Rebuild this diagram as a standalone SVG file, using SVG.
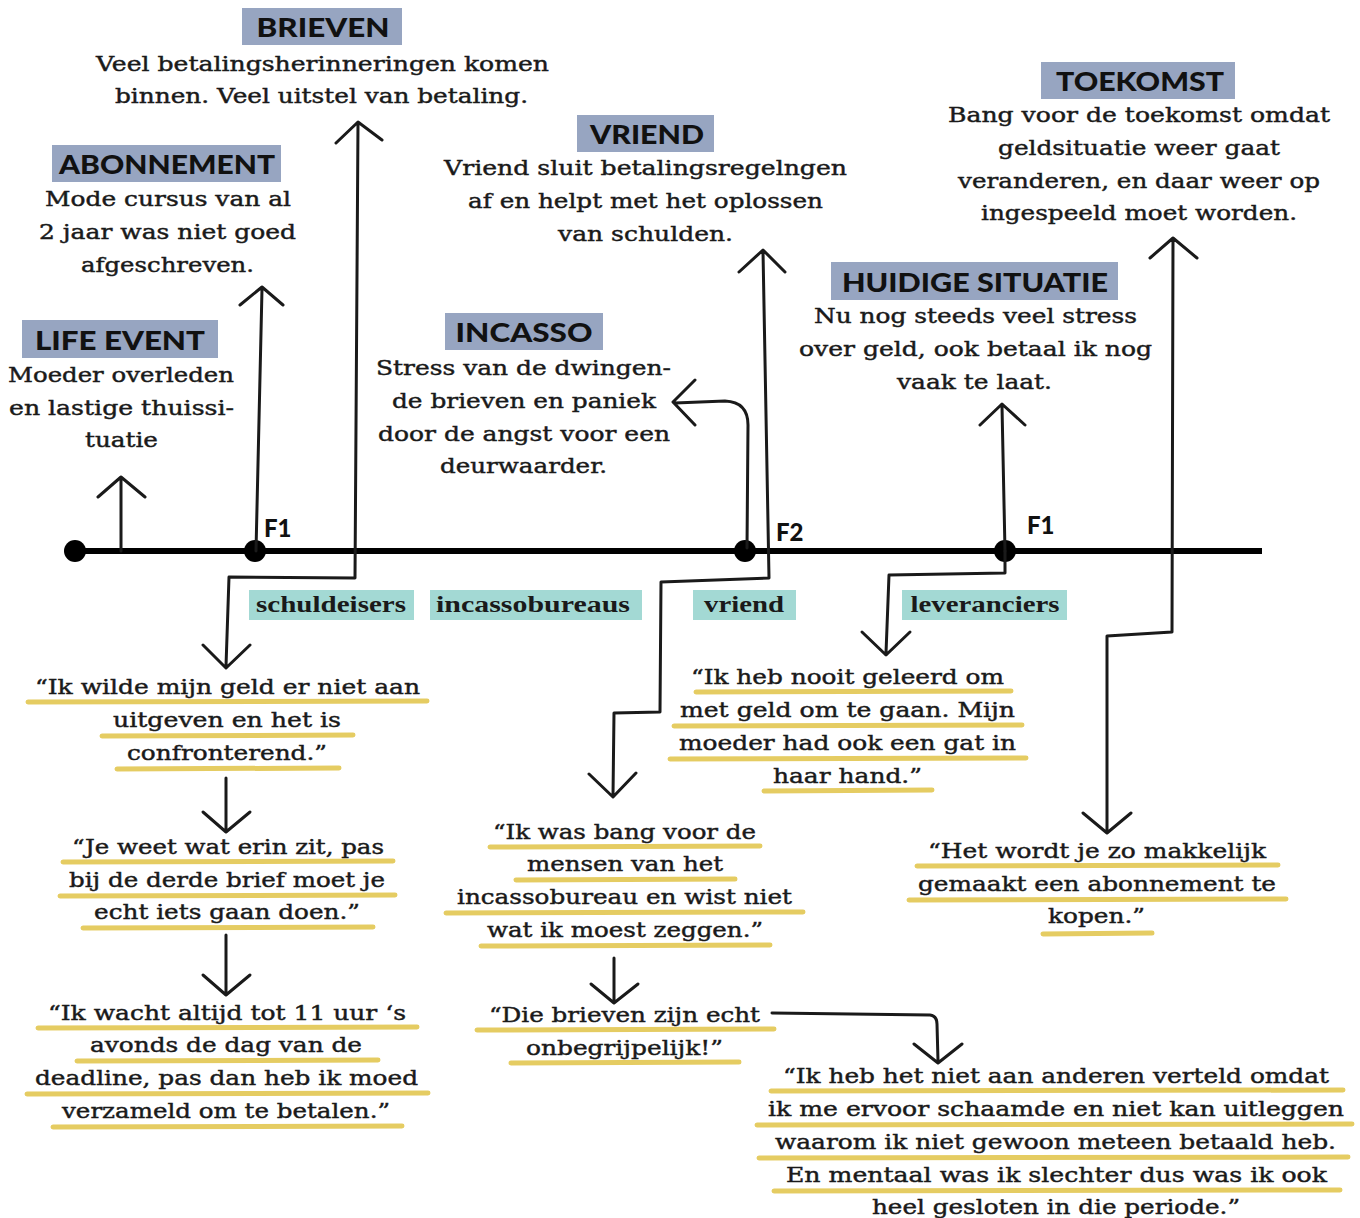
<svg xmlns="http://www.w3.org/2000/svg" width="1360" height="1218" viewBox="0 0 1360 1218">
  <style>
    .hbox { fill: #97a5c1; }
    .tbox { fill: #a3d9d4; }
    .hd { font-family: "Lato", "DejaVu Sans", sans-serif; font-weight: 900; font-size: 26px; fill: #111; text-anchor: middle; }
    .fl { font-family: "Lato", "DejaVu Sans", sans-serif; font-weight: 900; font-size: 24px; fill: #111; }
    .tx { font-family: "DejaVu Serif", serif; font-size: 21px; fill: #1a1a1a; stroke: #1a1a1a; stroke-width: 0.45; text-anchor: middle; }
    .tg { font-family: "Liberation Serif", "DejaVu Serif", serif; font-weight: bold; font-size: 23px; fill: #1a1a1a; text-anchor: middle; }
    .ul { stroke: #e5cc62; stroke-width: 5; stroke-linecap: round; fill: none; }
    .cn { stroke: #1a1a1a; stroke-width: 3; fill: none; stroke-linecap: round; stroke-linejoin: round; }
    .tl { stroke: #000; stroke-width: 6; }
  </style>

  <!-- timeline -->
  <g id="timeline">
    <line class="tl" x1="75" y1="551" x2="1262" y2="551"/>
    <circle cx="75" cy="551" r="11"/>
    <circle cx="255" cy="551" r="11"/>
    <circle cx="745" cy="551" r="11"/>
    <circle cx="1005" cy="551" r="11"/>
    <text class="fl" x="264" y="537">F1</text>
    <text class="fl" x="776" y="541">F2</text>
    <text class="fl" x="1027" y="534">F1</text>
  </g>

  <!-- connectors -->
  <g id="connectors">
    <!-- life event -->
    <path class="cn" d="M121 551 L121 478 M98 497 L121 477 L145 497"/>
    <!-- abonnement -->
    <path class="cn" d="M256 551 L262 289 M240 305 L262 287 L283 305"/>
    <!-- brieven / quotes left -->
    <path class="cn" d="M358 123 L355 578 L229 577 L226 666 M336 143 L358 122 L382 140 M203 645 L226 668 L250 645"/>
    <!-- incasso -->
    <path class="cn" d="M747 548 L748 425 Q748 402 725 401 L675 403 M695 380 L673 402 L695 425"/>
    <!-- vriend -->
    <path class="cn" d="M763 251 L769 578 L661 582 L660 712 L614 713 L613 796 M739 272 L763 250 L785 272 M589 774 L613 797 L636 773"/>
    <!-- huidige situatie -->
    <path class="cn" d="M1005 551 L1002 406 M980 425 L1002 404 L1025 425"/>
    <path class="cn" d="M1005 551 L1005 573 L889 575 L886 653 M862 632 L886 655 L910 632"/>
    <!-- toekomst -->
    <path class="cn" d="M1173 240 L1172 632 L1107 636 L1107 831 M1150 258 L1173 238 L1197 258 M1083 813 L1107 833 L1131 813"/>
    <!-- left column -->
    <path class="cn" d="M226 778 L226 830 M203 812 L226 832 L250 812"/>
    <path class="cn" d="M226 935 L226 993 M203 975 L226 995 L250 975"/>
    <!-- middle column -->
    <path class="cn" d="M614 958 L614 1001 M591 984 L614 1003 L638 984"/>
    <path class="cn" d="M772 1013 L930 1015 Q937 1016 937 1024 L938 1061 M914 1044 L938 1063 L962 1044"/>
  </g>

  <!-- Life event -->
  <g id="life-event">
    <rect class="hbox" x="22" y="320" width="196" height="38"/>
    <text class="hd" x="120" y="350" textLength="170" lengthAdjust="spacingAndGlyphs">LIFE EVENT</text>
    <text class="tx" x="121" y="382" textLength="226" lengthAdjust="spacingAndGlyphs">Moeder overleden</text>
    <text class="tx" x="121.5" y="415" textLength="225" lengthAdjust="spacingAndGlyphs">en lastige thuissi-</text>
    <text class="tx" x="121.5" y="447" textLength="73" lengthAdjust="spacingAndGlyphs">tuatie</text>
  </g>

  <!-- Abonnement -->
  <g id="abonnement">
    <rect class="hbox" x="52" y="145" width="229" height="37"/>
    <text class="hd" x="167" y="174" textLength="216" lengthAdjust="spacingAndGlyphs">ABONNEMENT</text>
    <text class="tx" x="168" y="206" textLength="246" lengthAdjust="spacingAndGlyphs">Mode cursus van al</text>
    <text class="tx" x="167.5" y="239" textLength="257" lengthAdjust="spacingAndGlyphs">2 jaar was niet goed</text>
    <text class="tx" x="167.5" y="272" textLength="173" lengthAdjust="spacingAndGlyphs">afgeschreven.</text>
  </g>

  <!-- Brieven -->
  <g id="brieven">
    <rect class="hbox" x="242" y="8" width="160" height="37"/>
    <text class="hd" x="323" y="37" textLength="133" lengthAdjust="spacingAndGlyphs">BRIEVEN</text>
    <text class="tx" x="322.5" y="71" textLength="453" lengthAdjust="spacingAndGlyphs">Veel betalingsherinneringen komen</text>
    <text class="tx" x="321.5" y="103" textLength="413" lengthAdjust="spacingAndGlyphs">binnen. Veel uitstel van betaling.</text>
  </g>

  <!-- Incasso -->
  <g id="incasso">
    <rect class="hbox" x="445" y="313" width="158" height="37"/>
    <text class="hd" x="524" y="342" textLength="137" lengthAdjust="spacingAndGlyphs">INCASSO</text>
    <text class="tx" x="523.5" y="375" textLength="295" lengthAdjust="spacingAndGlyphs">Stress van de dwingen-</text>
    <text class="tx" x="524" y="408" textLength="264" lengthAdjust="spacingAndGlyphs">de brieven en paniek</text>
    <text class="tx" x="524" y="441" textLength="292" lengthAdjust="spacingAndGlyphs">door de angst voor een</text>
    <text class="tx" x="523.5" y="473" textLength="167" lengthAdjust="spacingAndGlyphs">deurwaarder.</text>
  </g>

  <!-- Vriend -->
  <g id="vriend">
    <rect class="hbox" x="577" y="115" width="137" height="37"/>
    <text class="hd" x="647" y="144" textLength="114" lengthAdjust="spacingAndGlyphs">VRIEND</text>
    <text class="tx" x="645.5" y="175" textLength="403" lengthAdjust="spacingAndGlyphs">Vriend sluit betalingsregelngen</text>
    <text class="tx" x="645.5" y="208" textLength="355" lengthAdjust="spacingAndGlyphs">af en helpt met het oplossen</text>
    <text class="tx" x="645.5" y="241" textLength="175" lengthAdjust="spacingAndGlyphs">van schulden.</text>
  </g>

  <!-- Huidige situatie -->
  <g id="huidige-situatie">
    <rect class="hbox" x="831" y="262" width="287" height="38"/>
    <text class="hd" x="975" y="292" textLength="266" lengthAdjust="spacingAndGlyphs">HUIDIGE SITUATIE</text>
    <text class="tx" x="975.5" y="323" textLength="323" lengthAdjust="spacingAndGlyphs">Nu nog steeds veel stress</text>
    <text class="tx" x="975.5" y="356" textLength="353" lengthAdjust="spacingAndGlyphs">over geld, ook betaal ik nog</text>
    <text class="tx" x="974.5" y="389" textLength="155" lengthAdjust="spacingAndGlyphs">vaak te laat.</text>
  </g>

  <!-- Toekomst -->
  <g id="toekomst">
    <rect class="hbox" x="1041" y="62" width="194" height="37"/>
    <text class="hd" x="1140" y="91" textLength="168" lengthAdjust="spacingAndGlyphs">TOEKOMST</text>
    <text class="tx" x="1139" y="122" textLength="382" lengthAdjust="spacingAndGlyphs">Bang voor de toekomst omdat</text>
    <text class="tx" x="1139" y="155" textLength="282" lengthAdjust="spacingAndGlyphs">geldsituatie weer gaat</text>
    <text class="tx" x="1139" y="188" textLength="362" lengthAdjust="spacingAndGlyphs">veranderen, en daar weer op</text>
    <text class="tx" x="1139" y="220" textLength="316" lengthAdjust="spacingAndGlyphs">ingespeeld moet worden.</text>
  </g>

  <!-- actor tags -->
  <g id="tag-schuldeisers">
    <rect class="tbox" x="249" y="590" width="165" height="30"/>
    <text class="tg" x="331" y="612" textLength="150" lengthAdjust="spacingAndGlyphs">schuldeisers</text>
  </g>
  <g id="tag-incassobureaus">
    <rect class="tbox" x="430" y="590" width="212" height="30"/>
    <text class="tg" x="533" y="612" textLength="194" lengthAdjust="spacingAndGlyphs">incassobureaus</text>
  </g>
  <g id="tag-vriend">
    <rect class="tbox" x="693" y="590" width="103" height="30"/>
    <text class="tg" x="744" y="612" textLength="80" lengthAdjust="spacingAndGlyphs">vriend</text>
  </g>
  <g id="tag-leveranciers">
    <rect class="tbox" x="902" y="590" width="165" height="30"/>
    <text class="tg" x="985" y="612" textLength="149" lengthAdjust="spacingAndGlyphs">leveranciers</text>
  </g>

  <!-- quote: geld niet uitgeven -->
  <g id="quote-uitgeven">
    <path class="ul" d="M28 702 L427 701"/>
    <path class="ul" d="M102 736 L353 735"/>
    <path class="ul" d="M117 769 L339 768"/>
    <text class="tx" x="227.5" y="694" textLength="385" lengthAdjust="spacingAndGlyphs">“Ik wilde mijn geld er niet aan</text>
    <text class="tx" x="227" y="727" textLength="228" lengthAdjust="spacingAndGlyphs">uitgeven en het is</text>
    <text class="tx" x="227" y="760" textLength="200" lengthAdjust="spacingAndGlyphs">confronterend.”</text>
  </g>

  <!-- quote: derde brief -->
  <g id="quote-derde-brief">
    <path class="ul" d="M63 862 L393 861"/>
    <path class="ul" d="M60 896 L395 895"/>
    <path class="ul" d="M83 928 L373 927"/>
    <text class="tx" x="228" y="854" textLength="312" lengthAdjust="spacingAndGlyphs">“Je weet wat erin zit, pas</text>
    <text class="tx" x="227" y="887" textLength="316" lengthAdjust="spacingAndGlyphs">bij de derde brief moet je</text>
    <text class="tx" x="227" y="919" textLength="266" lengthAdjust="spacingAndGlyphs">echt iets gaan doen.”</text>
  </g>

  <!-- quote: deadline -->
  <g id="quote-deadline">
    <path class="ul" d="M38 1028 L417 1027"/>
    <path class="ul" d="M77 1061 L378 1060"/>
    <path class="ul" d="M27 1094 L428 1093"/>
    <path class="ul" d="M53 1127 L402 1126"/>
    <text class="tx" x="227" y="1020" textLength="358" lengthAdjust="spacingAndGlyphs">“Ik wacht altijd tot 11 uur ‘s</text>
    <text class="tx" x="226" y="1052" textLength="272" lengthAdjust="spacingAndGlyphs">avonds de dag van de</text>
    <text class="tx" x="226.5" y="1085" textLength="383" lengthAdjust="spacingAndGlyphs">deadline, pas dan heb ik moed</text>
    <text class="tx" x="226" y="1118" textLength="328" lengthAdjust="spacingAndGlyphs">verzameld om te betalen.”</text>
  </g>

  <!-- quote: bang voor incassobureau -->
  <g id="quote-bang">
    <path class="ul" d="M490 847 L760 846"/>
    <path class="ul" d="M516 880 L735 879"/>
    <path class="ul" d="M446 913 L803 912"/>
    <path class="ul" d="M481 946 L770 945"/>
    <text class="tx" x="624.5" y="839" textLength="263" lengthAdjust="spacingAndGlyphs">“Ik was bang voor de</text>
    <text class="tx" x="625" y="871" textLength="196" lengthAdjust="spacingAndGlyphs">mensen van het</text>
    <text class="tx" x="624.5" y="904" textLength="335" lengthAdjust="spacingAndGlyphs">incassobureau en wist niet</text>
    <text class="tx" x="625" y="937" textLength="276" lengthAdjust="spacingAndGlyphs">wat ik moest zeggen.”</text>
  </g>

  <!-- quote: onbegrijpelijk -->
  <g id="quote-onbegrijpelijk">
    <path class="ul" d="M477 1030 L774 1029"/>
    <path class="ul" d="M511 1063 L739 1062"/>
    <text class="tx" x="624.5" y="1022" textLength="271" lengthAdjust="spacingAndGlyphs">“Die brieven zijn echt</text>
    <text class="tx" x="624.5" y="1055" textLength="197" lengthAdjust="spacingAndGlyphs">onbegrijpelijk!”</text>
  </g>

  <!-- quote: nooit geleerd -->
  <g id="quote-nooit-geleerd">
    <path class="ul" d="M696 692 L1011 691"/>
    <path class="ul" d="M674 726 L1022 725"/>
    <path class="ul" d="M670 759 L1026 758"/>
    <path class="ul" d="M764 791 L932 790"/>
    <text class="tx" x="847.5" y="684" textLength="313" lengthAdjust="spacingAndGlyphs">“Ik heb nooit geleerd om</text>
    <text class="tx" x="847.5" y="717" textLength="335" lengthAdjust="spacingAndGlyphs">met geld om te gaan. Mijn</text>
    <text class="tx" x="847.5" y="750" textLength="337" lengthAdjust="spacingAndGlyphs">moeder had ook een gat in</text>
    <text class="tx" x="847.5" y="783" textLength="149" lengthAdjust="spacingAndGlyphs">haar hand.”</text>
  </g>

  <!-- quote: abonnement -->
  <g id="quote-abonnement">
    <path class="ul" d="M917 866 L1278 865"/>
    <path class="ul" d="M909 900 L1286 899"/>
    <path class="ul" d="M1043 934 L1152 933"/>
    <text class="tx" x="1097" y="858" textLength="338" lengthAdjust="spacingAndGlyphs">“Het wordt je zo makkelijk</text>
    <text class="tx" x="1097" y="891" textLength="358" lengthAdjust="spacingAndGlyphs">gemaakt een abonnement te</text>
    <text class="tx" x="1096.5" y="923" textLength="97" lengthAdjust="spacingAndGlyphs">kopen.”</text>
  </g>

  <!-- quote: schaamte -->
  <g id="quote-schaamte">
    <path class="ul" d="M771 1091 L1343 1090"/>
    <path class="ul" d="M757 1125 L1352 1124"/>
    <path class="ul" d="M759 1158 L1348 1157"/>
    <path class="ul" d="M774 1191 L1340 1190"/>
    <text class="tx" x="1056" y="1083" textLength="546" lengthAdjust="spacingAndGlyphs">“Ik heb het niet aan anderen verteld omdat</text>
    <text class="tx" x="1056" y="1116" textLength="576" lengthAdjust="spacingAndGlyphs">ik me ervoor schaamde en niet kan uitleggen</text>
    <text class="tx" x="1055.5" y="1149" textLength="561" lengthAdjust="spacingAndGlyphs">waarom ik niet gewoon meteen betaald heb.</text>
    <text class="tx" x="1056.5" y="1182" textLength="541" lengthAdjust="spacingAndGlyphs">En mentaal was ik slechter dus was ik ook</text>
    <text class="tx" x="1056" y="1214" textLength="368" lengthAdjust="spacingAndGlyphs">heel gesloten in die periode.”</text>
  </g>
</svg>
